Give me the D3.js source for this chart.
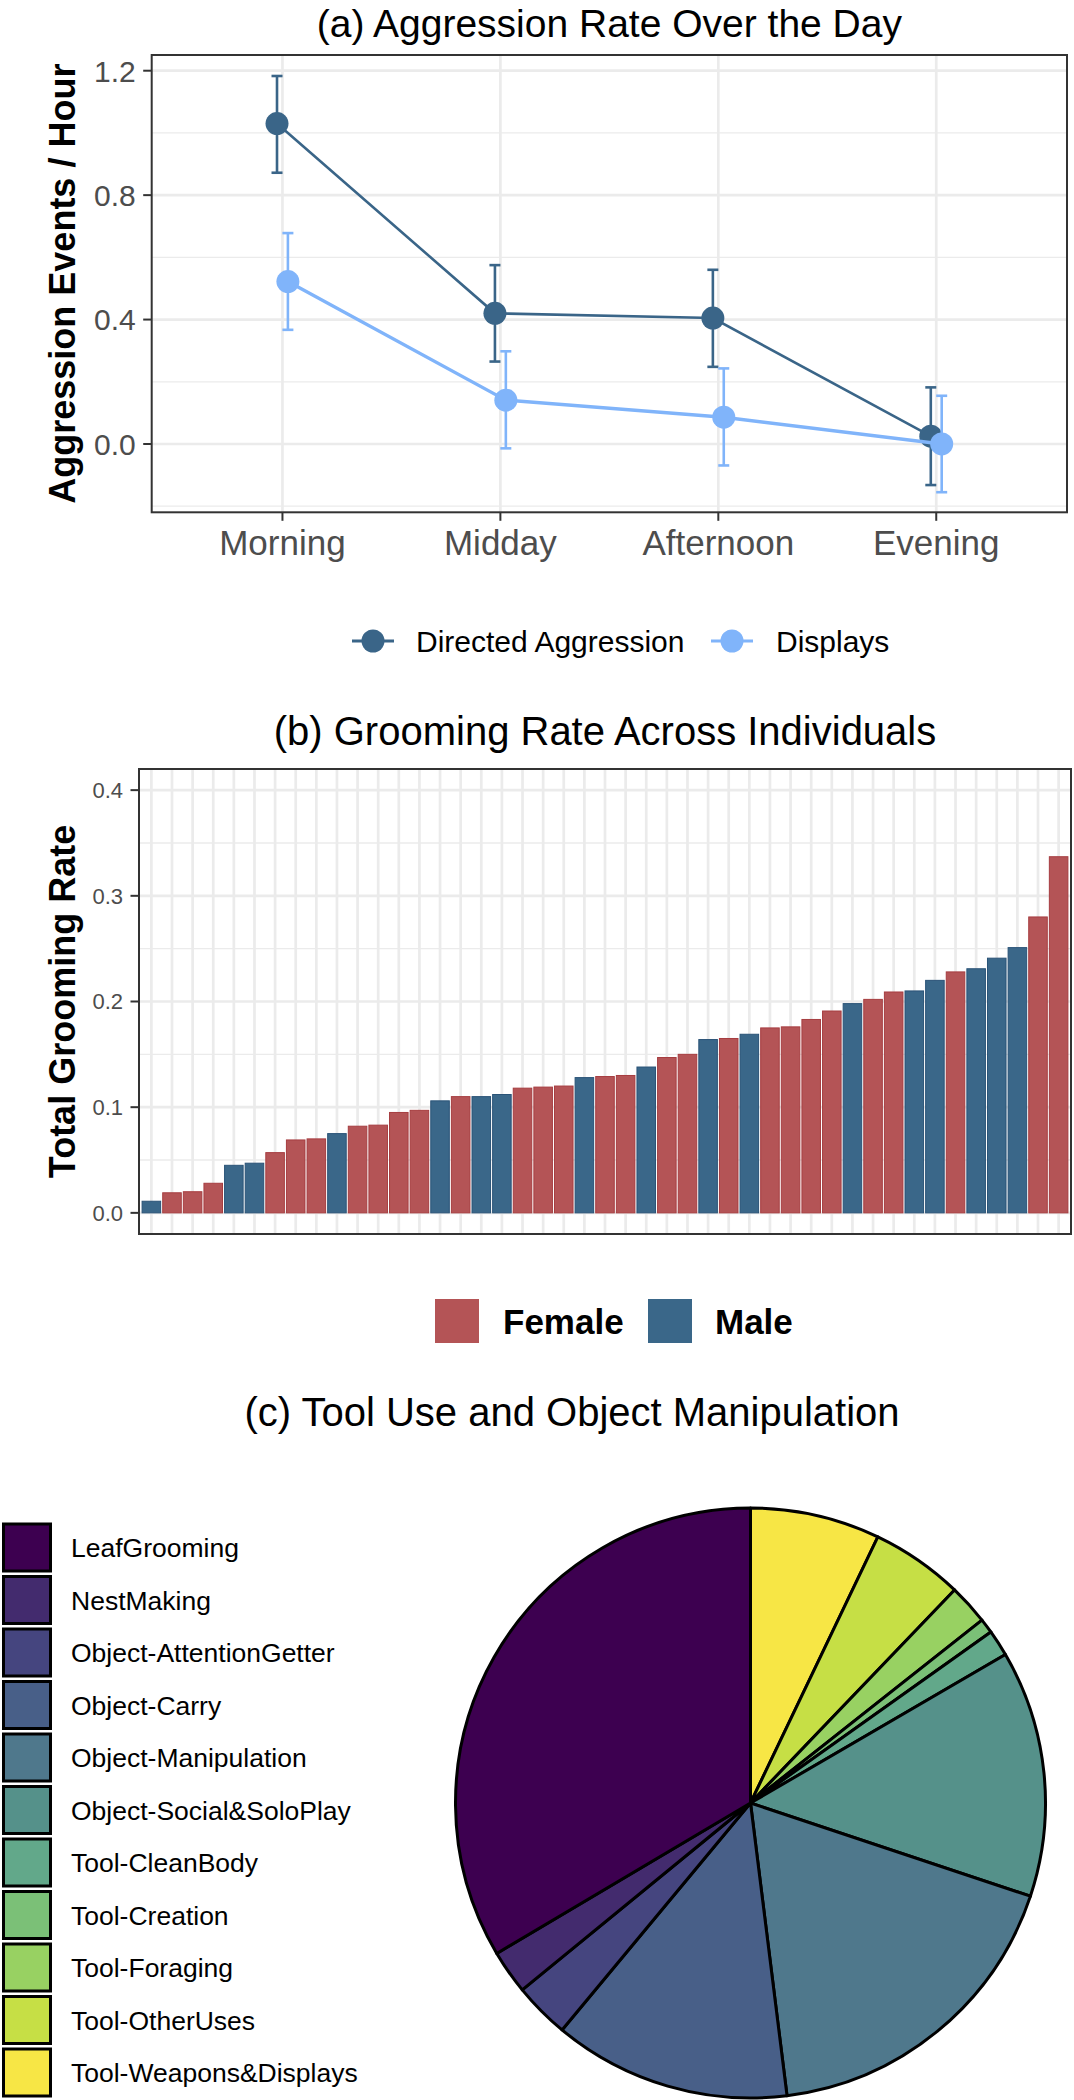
<!DOCTYPE html>
<html><head><meta charset="utf-8">
<script src="https://cdn.jsdelivr.net/npm/d3@7"></script>
<style>
body{margin:0;background:#fff;}
svg{display:block;}
text{font-family:"Liberation Sans", Arial, Helvetica, sans-serif;}
</style>
</head><body>
<svg id="chart" width="1074" height="2100"></svg>
<script>
// ---------- DATA ----------
// (a) Aggression rate over the day
const periods = ["Morning", "Midday", "Afternoon", "Evening"];
const seriesNames = ["Directed Aggression", "Displays"];
const aggMean = [1.03, 0.42, 0.405, 0.025];
const aggLo   = [0.872, 0.265, 0.248, -0.132];
const aggHi   = [1.183, 0.575, 0.560, 0.182];
const dispMean = [0.522, 0.141, 0.086, 0.0];
const dispLo   = [0.367, -0.014, -0.069, -0.155];
const dispHi   = [0.678, 0.298, 0.243, 0.155];
const aggTicks = [0.0, 0.4, 0.8, 1.2];
const aggMinor = [-0.2, 0.2, 0.6, 1.0];

// (b) Grooming rate across individuals
const groomRate = [0.011, 0.019, 0.020, 0.028, 0.045, 0.047, 0.057, 0.069, 0.070, 0.075,
  0.082, 0.083, 0.095, 0.097, 0.106, 0.110, 0.110, 0.112, 0.118, 0.119,
  0.120, 0.128, 0.129, 0.130, 0.138, 0.147, 0.150, 0.164, 0.165, 0.169,
  0.175, 0.176, 0.183, 0.191, 0.198, 0.202, 0.209, 0.210, 0.220, 0.228,
  0.231, 0.241, 0.251, 0.280, 0.337];
const groomSex = ["Male","Female","Female","Female","Male","Male","Female","Female","Female","Male",
  "Female","Female","Female","Female","Male","Female","Male","Male","Female","Female",
  "Female","Male","Female","Female","Male","Female","Female","Male","Female","Male",
  "Female","Female","Female","Female","Male","Female","Female","Male","Male","Female",
  "Male","Male","Male","Female","Female"];
const sexLevels = ["Female", "Male"];
const groomTicks = [0.0, 0.1, 0.2, 0.3, 0.4];
const groomMinor = [0.05, 0.15, 0.25, 0.35];

// (c) Tool use and object manipulation (percent of events)
const toolCats = ["LeafGrooming", "NestMaking", "Object-AttentionGetter", "Object-Carry",
  "Object-Manipulation", "Object-Social&SoloPlay", "Tool-CleanBody", "Tool-Creation",
  "Tool-Foraging", "Tool-OtherUses", "Tool-Weapons&Displays"];
const toolPct = [33.5, 2.4, 3.05, 13.0, 17.9, 13.5, 1.45, 0.8, 2.2, 5.05, 7.1];

// ---------- STYLE ----------
const svg = d3.select("#chart");
const GRID = "#EBEBEB", BORDER = "#333333", TICKTXT = "#4D4D4D";
const seriesColors = ["#3A6588", "#80B4FA"];
const sexFill = {Female: "#B45456", Male: "#3A6789"};
const sexStroke = {Female: "#A63D40", Male: "#2A5377"};
const toolColors = ["#3D0050", "#432B6E", "#45457F", "#485F88", "#4F788C", "#55918A",
  "#62A88A", "#7BC077", "#98D162", "#C6DF45", "#F7E645"];

// ================= PANEL A =================
(function(){
  const L = 151.7, R = 1067, T = 55, B = 512.3;
  const g = svg.append("g");
  const x = d3.scalePoint().domain(periods).range([L, R]).padding(0.6);
  const y = d3.scaleLinear().domain([-0.2196, 1.2505]).range([B, T]);

  g.selectAll(".minor").data(aggMinor).join("line")
    .attr("x1", L).attr("x2", R).attr("y1", d => y(d)).attr("y2", d => y(d))
    .attr("stroke", GRID).attr("stroke-width", 1.3);
  g.selectAll(".major").data(aggTicks).join("line")
    .attr("x1", L).attr("x2", R).attr("y1", d => y(d)).attr("y2", d => y(d))
    .attr("stroke", GRID).attr("stroke-width", 2.7);
  g.selectAll(".vmajor").data(periods).join("line")
    .attr("x1", d => x(d)).attr("x2", d => x(d)).attr("y1", T).attr("y2", B)
    .attr("stroke", GRID).attr("stroke-width", 2.7);

  const series = [
    {name: seriesNames[0], mean: aggMean, lo: aggLo, hi: aggHi, color: seriesColors[0], lw: 2.6, off: -1},
    {name: seriesNames[1], mean: dispMean, lo: dispLo, hi: dispHi, color: seriesColors[1], lw: 3.4, off: 1}
  ];
  const dodge = 0.025 * x.step();
  series.forEach(s => {
    const pts = periods.map((p, i) => ({x: x(p) + s.off * dodge, m: s.mean[i], lo: s.lo[i], hi: s.hi[i]}));
    const sg = g.append("g");
    pts.forEach(p => {
      sg.append("line").attr("x1", p.x).attr("x2", p.x).attr("y1", y(p.lo)).attr("y2", y(p.hi))
        .attr("stroke", s.color).attr("stroke-width", 2.6);
      [p.lo, p.hi].forEach(v => sg.append("line").attr("x1", p.x - 5.5).attr("x2", p.x + 5.5)
        .attr("y1", y(v)).attr("y2", y(v)).attr("stroke", s.color).attr("stroke-width", 2.6));
    });
    sg.append("path").datum(pts)
      .attr("d", d3.line().x(d => d.x).y(d => y(d.m)))
      .attr("fill", "none").attr("stroke", s.color).attr("stroke-width", s.lw);
    sg.selectAll("circle").data(pts).join("circle")
      .attr("cx", d => d.x).attr("cy", d => y(d.m)).attr("r", 11.5).attr("fill", s.color);
  });

  g.append("rect").attr("x", L).attr("y", T).attr("width", R - L).attr("height", B - T)
    .attr("fill", "none").attr("stroke", BORDER).attr("stroke-width", 2);

  aggTicks.forEach(t => {
    g.append("line").attr("x1", L - 8.5).attr("x2", L).attr("y1", y(t)).attr("y2", y(t))
      .attr("stroke", BORDER).attr("stroke-width", 2);
    g.append("text").attr("x", L - 16).attr("y", y(t)).attr("dy", "0.36em")
      .attr("text-anchor", "end").attr("font-size", 30).attr("fill", TICKTXT).text(t.toFixed(1));
  });
  periods.forEach(p => {
    g.append("line").attr("x1", x(p)).attr("x2", x(p)).attr("y1", B).attr("y2", B + 8.5)
      .attr("stroke", BORDER).attr("stroke-width", 2);
    g.append("text").attr("x", x(p)).attr("y", 555).attr("text-anchor", "middle")
      .attr("font-size", 35).attr("fill", TICKTXT).text(p);
  });

  g.append("text").attr("x", (L + R) / 2).attr("y", 37).attr("text-anchor", "middle")
    .attr("font-size", 39).attr("fill", "#000").text("(a) Aggression Rate Over the Day");
  g.append("text").attr("transform", `translate(75,${(T + B) / 2}) rotate(-90)`)
    .attr("text-anchor", "middle").attr("font-size", 36).attr("font-weight", "bold")
    .attr("fill", "#000").text("Aggression Events / Hour");

  const legX = [373, 732], legTxt = [416, 776], legY = 641;
  series.forEach((s, i) => {
    g.append("line").attr("x1", legX[i] - 21).attr("x2", legX[i] + 21).attr("y1", legY).attr("y2", legY)
      .attr("stroke", s.color).attr("stroke-width", 3);
    g.append("circle").attr("cx", legX[i]).attr("cy", legY).attr("r", 11.5).attr("fill", s.color);
    g.append("text").attr("x", legTxt[i]).attr("y", legY).attr("dy", "0.36em")
      .attr("font-size", 30).attr("fill", "#000").text(s.name);
  });
})();

// ================= PANEL B =================
(function(){
  const L = 139, R = 1071, T = 769, B = 1234;
  const g = svg.append("g");
  const idx = d3.range(groomRate.length);
  const x = d3.scaleBand().domain(idx).range([L, R]).paddingInner(0.1).paddingOuter(0.15);
  const y = d3.scaleLinear().domain([-0.02, 0.42]).range([B, T]);

  g.selectAll(".minor").data(groomMinor).join("line")
    .attr("x1", L).attr("x2", R).attr("y1", d => y(d)).attr("y2", d => y(d))
    .attr("stroke", GRID).attr("stroke-width", 1.3);
  g.selectAll(".major").data(groomTicks).join("line")
    .attr("x1", L).attr("x2", R).attr("y1", d => y(d)).attr("y2", d => y(d))
    .attr("stroke", GRID).attr("stroke-width", 2.7);
  g.selectAll(".vmajor").data(idx).join("line")
    .attr("x1", d => x(d) + x.bandwidth() / 2).attr("x2", d => x(d) + x.bandwidth() / 2)
    .attr("y1", T).attr("y2", B).attr("stroke", GRID).attr("stroke-width", 2.7);

  g.selectAll(".bar").data(idx).join("rect")
    .attr("x", d => x(d)).attr("width", x.bandwidth())
    .attr("y", d => y(groomRate[d])).attr("height", d => y(0) - y(groomRate[d]))
    .attr("fill", d => sexFill[groomSex[d]]).attr("stroke", d => sexStroke[groomSex[d]])
    .attr("stroke-width", 1);

  g.append("rect").attr("x", L).attr("y", T).attr("width", R - L).attr("height", B - T)
    .attr("fill", "none").attr("stroke", BORDER).attr("stroke-width", 2);

  groomTicks.forEach(t => {
    g.append("line").attr("x1", L - 8.5).attr("x2", L).attr("y1", y(t)).attr("y2", y(t))
      .attr("stroke", BORDER).attr("stroke-width", 2);
    g.append("text").attr("x", L - 16).attr("y", y(t)).attr("dy", "0.36em")
      .attr("text-anchor", "end").attr("font-size", 22).attr("fill", TICKTXT).text(t.toFixed(1));
  });

  g.append("text").attr("x", (L + R) / 2).attr("y", 745).attr("text-anchor", "middle")
    .attr("font-size", 40).attr("fill", "#000").text("(b) Grooming Rate Across Individuals");
  g.append("text").attr("transform", `translate(75,${(T + B) / 2}) rotate(-90)`)
    .attr("text-anchor", "middle").attr("font-size", 36).attr("font-weight", "bold")
    .attr("fill", "#000").text("Total Grooming Rate");

  const keyX = [435, 648], txtX = [503, 715], ly = 1321, ks = 44;
  sexLevels.forEach((s, i) => {
    g.append("rect").attr("x", keyX[i]).attr("y", ly - ks / 2).attr("width", ks).attr("height", ks)
      .attr("fill", sexFill[s]);
    g.append("text").attr("x", txtX[i]).attr("y", ly).attr("dy", "0.36em")
      .attr("font-size", 35).attr("font-weight", "bold").attr("fill", "#000").text(s);
  });
})();

// ================= PANEL C =================
(function(){
  const g = svg.append("g");
  const cx = 750.5, cy = 1803, r = 295;
  g.append("text").attr("x", 572).attr("y", 1426).attr("text-anchor", "middle")
    .attr("font-size", 40).attr("fill", "#000").text("(c) Tool Use and Object Manipulation");

  const order = d3.range(toolCats.length).reverse();
  const pie = d3.pie().sort(null).value(i => toolPct[i]);
  const arc = d3.arc().innerRadius(0).outerRadius(r);
  g.append("g").attr("transform", `translate(${cx},${cy})`)
    .selectAll("path").data(pie(order)).join("path")
    .attr("d", arc).attr("fill", d => toolColors[d.data])
    .attr("stroke", "#000").attr("stroke-width", 3).attr("stroke-linejoin", "round");

  const top = 1524, step = 52.5, ks = 47;
  toolCats.forEach((c, i) => {
    const yy = top + i * step;
    g.append("rect").attr("x", 3.5).attr("y", yy).attr("width", ks).attr("height", ks)
      .attr("fill", toolColors[i]).attr("stroke", "#000").attr("stroke-width", 3);
    g.append("text").attr("x", 71).attr("y", yy + ks / 2).attr("dy", "0.36em")
      .attr("font-size", 26.5).attr("fill", "#000").text(c);
  });
})();
</script>
</body></html>
